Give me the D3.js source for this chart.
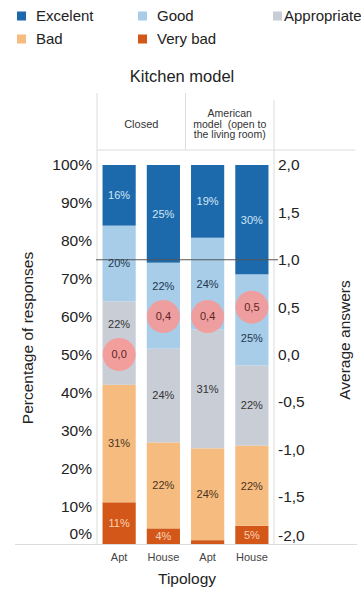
<!DOCTYPE html>
<html>
<head>
<meta charset="utf-8">
<script src="https://cdn.jsdelivr.net/npm/d3@7"></script>
<style>
  html, body { margin: 0; padding: 0; background: #ffffff; }
  svg { display: block; font-family: "Liberation Sans", Arial, sans-serif; }
  text { white-space: pre; }
</style>
</head>
<body>
<svg id="chart" width="361" height="590"></svg>
<script>
// ---- data ----
const kitchenModels = ["Closed", "American"];
const kitchenModelLines = [["Closed"], ["American", "model  (open to", "the living room)"]];
const barModel = ["Closed", "Closed", "American", "American"];
const typology = ["Apt", "House", "Apt", "House"];
const categories = ["Very bad", "Bad", "Appropriate", "Good", "Excelent"];
const veryBad     = [11, 4, 1, 5];
const bad         = [31, 22, 24, 22];
const appropriate = [22, 24, 31, 22];
const good        = [20, 22, 24, 25];
const excelent    = [16, 25, 19, 30];
const averageAnswer = [0.0, 0.4, 0.4, 0.5];
const referenceAverage = 1.0;
const percentTicks = [0, 10, 20, 30, 40, 50, 60, 70, 80, 90, 100];
const averageTicks = [-2, -1.5, -1, -0.5, 0, 0.5, 1, 1.5, 2];
const legendOrder = ["Excelent", "Good", "Appropriate", "Bad", "Very bad"];

// ---- styling ----
const colors = {
  "Excelent": "#1c6aab",
  "Good": "#a7cde9",
  "Appropriate": "#c9cdd6",
  "Bad": "#f6bc7f",
  "Very bad": "#d25718"
};
const labelColors = {
  "Excelent": "#d2e6f6",
  "Good": "#22364e",
  "Appropriate": "#333333",
  "Bad": "#4a3420",
  "Very bad": "#f9d3b6"
};

const svg = d3.select("#chart");
const plot = { left: 97, right: 274, top: 165, bottom: 544 };

const rows = typology.map((t, i) => ({
  id: i, typology: t, model: barModel[i],
  "Very bad": veryBad[i], "Bad": bad[i], "Appropriate": appropriate[i],
  "Good": good[i], "Excelent": excelent[i]
}));

const x = d3.scaleBand()
  .domain(rows.map(r => r.id))
  .range([plot.left, plot.right])
  .paddingInner(0.25)
  .paddingOuter(0.125);

const yPct = d3.scaleLinear().domain([0, 100]).range([plot.bottom, plot.top]);
const yAvg = d3.scaleLinear().domain([-2, 2]).range([plot.bottom, plot.top]);

const commaLocale = d3.formatLocale({ decimal: ",", thousands: ".", grouping: [3], currency: ["", ""], minus: "-" });
const fmtAvg = commaLocale.format(".1f");

// ---- legend ----
const legendPos = [
  { x: 17, y: 16, tx: 36 }, { x: 138, y: 16, tx: 157 }, { x: 273, y: 16, tx: 284 },
  { x: 17, y: 39, tx: 36 }, { x: 138, y: 39, tx: 157 }
];
const legend = svg.append("g");
legendOrder.forEach((k, i) => {
  const p = legendPos[i];
  legend.append("rect").attr("x", p.x).attr("y", p.y - 4.5).attr("width", 9).attr("height", 9).attr("fill", colors[k]);
  legend.append("text").attr("x", p.tx).attr("y", p.y).attr("dy", "0.35em")
    .attr("font-size", 15).attr("fill", "#222").text(k);
});

// ---- header ----
svg.append("text").attr("x", 182).attr("y", 76).attr("dy", "0.35em")
  .attr("text-anchor", "middle").attr("font-size", 16.5).attr("fill", "#222").text("Kitchen model");

const gridColor = "#dcdcdc";
const modelSpan = kitchenModels.map(m => {
  const ids = rows.filter(r => r.model === m).map(r => r.id);
  return [x(ids[0]) - x.step() * x.paddingInner() / 2, x(ids[ids.length - 1]) + x.bandwidth() + x.step() * x.paddingInner() / 2];
});
// column dividers in the header
const dividers = [plot.left, (modelSpan[0][1] + modelSpan[1][0]) / 2, plot.right];
dividers.forEach((dx, i) => {
  svg.append("line").attr("x1", dx).attr("x2", dx)
    .attr("y1", i === 2 ? 100 : 93).attr("y2", 150)
    .attr("stroke", gridColor).attr("stroke-width", 1);
});
svg.append("line").attr("x1", plot.left).attr("x2", 355).attr("y1", 150).attr("y2", 150)
  .attr("stroke", gridColor).attr("stroke-width", 1);

kitchenModelLines.forEach((lines, i) => {
  const cx = i === 0 ? (dividers[0] + dividers[1]) / 2 : (dividers[1] + dividers[2]) / 2;
  const fs = i === 0 ? 11 : 10.5;
  const lh = 10.7;
  const y0 = 124 - (lines.length - 1) * lh / 2;
  lines.forEach((ln, j) => {
    svg.append("text").attr("x", cx).attr("y", y0 + j * lh).attr("dy", "0.35em")
      .attr("text-anchor", "middle").attr("font-size", fs).attr("fill", "#333").text(ln);
  });
});

// ---- frame lines ----
[plot.left, plot.right].forEach(vx => {
  svg.append("line").attr("x1", vx).attr("x2", vx).attr("y1", 150).attr("y2", plot.bottom)
    .attr("stroke", gridColor).attr("stroke-width", 1);
});
svg.append("line").attr("x1", 15).attr("x2", 357).attr("y1", plot.bottom + 0.5).attr("y2", plot.bottom + 0.5)
  .attr("stroke", gridColor).attr("stroke-width", 1);

// ---- stacked bars (100% stacked) ----
const stack = d3.stack().keys(categories).offset(d3.stackOffsetExpand);
const series = stack(rows);

const barsG = svg.append("g");
series.forEach(s => {
  barsG.selectAll(null).data(s).enter().append("rect")
    .attr("x", d => x(d.data.id))
    .attr("width", x.bandwidth())
    .attr("y", d => yPct(d[1] * 100))
    .attr("height", d => yPct(d[0] * 100) - yPct(d[1] * 100))
    .attr("fill", colors[s.key]);
});

// reference line at average = 1,0
svg.append("line")
  .attr("x1", plot.left - 1).attr("x2", plot.right + 4)
  .attr("y1", yAvg(referenceAverage)).attr("y2", yAvg(referenceAverage))
  .attr("stroke", "#555").attr("stroke-width", 1);

// segment labels, nudged clear of the average marker
const labelsG = svg.append("g");
series.forEach(s => {
  s.forEach(d => {
    const top = yPct(d[1] * 100), bottom = yPct(d[0] * 100);
    if (bottom - top < 8) return;
    let ly = (top + bottom) / 2;
    const cy = yAvg(averageAnswer[d.data.id]);
    if (Math.abs(ly - cy) < 28) ly = ly < cy ? cy - 30 : cy + 31;
    labelsG.append("text")
      .attr("x", x(d.data.id) + x.bandwidth() / 2)
      .attr("y", ly).attr("dy", "0.35em")
      .attr("text-anchor", "middle").attr("font-size", 11)
      .attr("fill", labelColors[s.key])
      .text(d.data[s.key] + "%");
  });
});

// ---- average markers ----
const marks = svg.append("g");
rows.forEach(r => {
  const cx = x(r.id) + x.bandwidth() / 2, cy = yAvg(averageAnswer[r.id]);
  marks.append("circle").attr("cx", cx).attr("cy", cy).attr("r", 16.5)
    .attr("fill", "#f59a98").attr("fill-opacity", 0.92);
  marks.append("text").attr("x", cx).attr("y", cy).attr("dy", "0.35em")
    .attr("text-anchor", "middle").attr("font-size", 11).attr("fill", "#5e2424")
    .text(fmtAvg(averageAnswer[r.id]));
});

// ---- axes ----
const leftAxis = svg.append("g").attr("transform", `translate(${plot.left},0)`)
  .call(d3.axisLeft(yPct).tickValues(percentTicks).tickSize(0).tickPadding(5).tickFormat(d => d + "%"));
const rightAxis = svg.append("g").attr("transform", `translate(${plot.right},0)`)
  .call(d3.axisRight(yAvg).tickValues(averageTicks).tickSize(0).tickPadding(4).tickFormat(fmtAvg));
[leftAxis, rightAxis].forEach(ax => {
  ax.select(".domain").remove();
  ax.selectAll("text").attr("font-size", 15.5).attr("fill", "#222")
    .attr("font-family", "'Liberation Sans', Arial, sans-serif");
});
// bottom tick labels sit just above the baseline
leftAxis.selectAll(".tick").filter(d => d === 0).select("text").attr("y", -10);
rightAxis.selectAll(".tick").filter(d => d === -2).select("text").attr("y", -8);

// typology labels
rows.forEach(r => {
  svg.append("text").attr("x", x(r.id) + x.bandwidth() / 2).attr("y", 557).attr("dy", "0.35em")
    .attr("text-anchor", "middle").attr("font-size", 11).attr("fill", "#444").text(r.typology);
});

// axis titles
svg.append("text").attr("x", 187).attr("y", 579).attr("dy", "0.35em")
  .attr("text-anchor", "middle").attr("font-size", 15.5).attr("fill", "#222").text("Tipology");
svg.append("text").attr("transform", "translate(28,338) rotate(-90)").attr("dy", "0.35em")
  .attr("text-anchor", "middle").attr("font-size", 15.5).attr("fill", "#222").text("Percentage of responses");
svg.append("text").attr("transform", "translate(345,340) rotate(-90)").attr("dy", "0.35em")
  .attr("text-anchor", "middle").attr("font-size", 15.5).attr("fill", "#222").text("Average answers");
</script>
</body>
</html>
